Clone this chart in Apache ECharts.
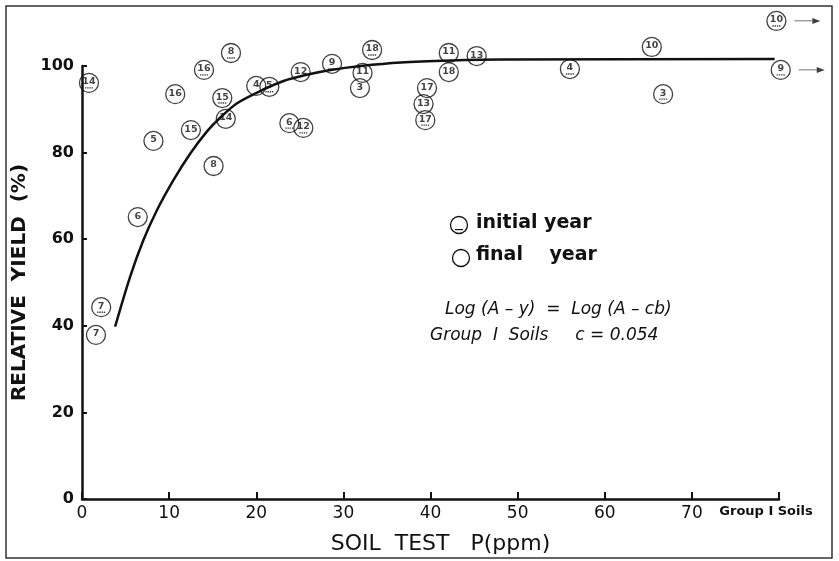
<!DOCTYPE html>
<html>
<head>
<meta charset="utf-8">
<script src="https://cdn.jsdelivr.net/npm/echarts@6/dist/echarts.min.js"></script>
<style>
html,body{margin:0;padding:0;background:#fff;}
#chart{width:839px;height:561px;}
</style>
</head>
<body>
<div id="chart"></div>
<script>
// ---- data ----
const xTicks = [0, 10, 20, 30, 40, 50, 60, 70];
const yTicks = [0, 20, 40, 60, 80, 100];

// initial year (dotted underline inside circle)
const initX = [0.8, 2.2, 14.0, 17.1, 16.1, 21.5, 23.8, 25.4, 28.7, 33.3, 39.4, 56.0, 66.7, 80.2, 79.7];
const initY = [96.1, 44.3, 99.1, 103.0, 92.6, 95.2, 86.8, 85.7, 100.5, 103.7, 87.5, 99.3, 93.5, 99.1, 110.4];
const initLabel = ['14', '7', '16', '8', '15', '5', '6', '12', '9', '18', '17', '4', '3', '9', '10'];

// final year (plain circle)
const finalX = [1.6, 6.4, 8.2, 10.7, 12.5, 16.5, 15.1, 20.0, 25.1, 32.2, 31.9, 39.6, 39.2, 42.1, 42.1, 45.3, 65.4];
const finalY = [37.9, 65.1, 82.7, 93.5, 85.2, 87.8, 76.9, 95.4, 98.6, 98.4, 94.9, 94.9, 91.2, 103.0, 98.6, 102.3, 104.4];
const finalLabel = ['7', '6', '5', '16', '15', '14', '8', '4', '12', '11', '3', '17', '13', '11', '18', '13', '10'];

// off-scale points (drawn with an arrow to the right)
const arrowX = [80.2, 79.7];
const arrowY = [99.1, 110.4];

// fitted curve
const curveX = [3.80, 5.52, 7.05, 8.60, 10.51, 12.43, 14.35, 15.88, 17.80, 20.71, 23.13, 25.66, 28.54, 31.99, 36.59, 42.35, 48.10, 79.5];
const curveY = [39.8, 51.3, 59.8, 66.7, 73.7, 79.8, 84.9, 88.1, 91.4, 94.46, 96.54, 97.92, 99.08, 100.0, 100.81, 101.27, 101.50, 101.6];

// ---- chart ----
const pair = (xs, ys) => xs.map((x, i) => [x, ys[i]]);
const fontMain = '"DejaVu Sans", "Liberation Sans", sans-serif';
const dotsPath = 'path://M0,0h1.4v1.4h-1.4z M2.2,0h1.4v1.4h-1.4z M4.4,0h1.4v1.4h-1.4z M6.6,0h1.4v1.4h-1.4z';
const arrowPath = 'path://M0,2.6h19v0.8h-19z M18,0 L26,3 L18,6 z';

const chart = echarts.init(document.getElementById('chart'), null, {renderer: 'canvas'});

const circleSeries = (name, xs, ys, labels, z) => ({
  name: name,
  type: 'scatter',
  clip: false,
  z: z,
  symbol: 'circle',
  symbolSize: 19,
  itemStyle: {color: 'rgba(255,255,255,0)', borderColor: '#111', borderWidth: 1.3},
  label: {
    show: true, position: 'inside',
    formatter: p => labels[p.dataIndex],
    color: '#111', fontSize: 9.5, fontWeight: 'bold', fontFamily: fontMain,
    offset: [0, -1]
  },
  emphasis: {disabled: true},
  data: pair(xs, ys)
});

chart.setOption({
  animation: false,
  backgroundColor: '#fff',
  grid: {left: 82, right: 60, top: 66, bottom: 62, containLabel: false},
  xAxis: {
    type: 'value', min: 0, max: 80, interval: 10,
    name: 'SOIL  TEST   P(ppm)', nameLocation: 'middle', nameGap: 34,
    nameTextStyle: {fontSize: 22, color: '#111', fontFamily: fontMain, padding: [0, 0, 0, 20]},
    axisLine: {show: true, lineStyle: {color: '#111', width: 2.5}},
    axisTick: {show: true, inside: true, length: 7, lineStyle: {color: '#111', width: 2}},
    splitLine: {show: false},
    axisLabel: {
      margin: 6, color: '#111', fontSize: 17, fontFamily: fontMain,
      formatter: v => (v === 80 ? '{g|Group I Soils}' : (xTicks.indexOf(v) >= 0 ? String(v) : '')),
      rich: {g: {fontSize: 13, fontWeight: 'bold', color: '#111', fontFamily: fontMain, padding: [0, 26, 0, 0]}}
    }
  },
  yAxis: {
    type: 'value', min: 0, max: 100, interval: 20,
    name: 'RELATIVE  YIELD  (%)', nameLocation: 'middle', nameGap: 44, nameRotate: 90,
    nameTextStyle: {fontSize: 20, fontWeight: 'bold', color: '#111', fontFamily: fontMain},
    axisLine: {show: true, lineStyle: {color: '#111', width: 2.5}},
    axisTick: {show: true, inside: true, length: 5, lineStyle: {color: '#111', width: 2}},
    splitLine: {show: false},
    axisLabel: {
      margin: 8, color: '#111', fontSize: 16, fontWeight: 'bold', fontFamily: fontMain,
      formatter: v => (yTicks.indexOf(v) >= 0 ? String(v) : '')
    }
  },
  series: [
    {
      name: 'curve', type: 'line', smooth: 0.3, showSymbol: false, z: 2, clip: false,
      lineStyle: {color: '#111', width: 2.5},
      emphasis: {disabled: true},
      data: pair(curveX, curveY)
    },
    circleSeries('initial year', initX, initY, initLabel, 4),
    circleSeries('final year', finalX, finalY, finalLabel, 4),
    {
      name: 'initial dots', type: 'scatter', clip: false, z: 5, silent: true,
      symbol: dotsPath, symbolSize: [8, 1.4], symbolOffset: [0, 5],
      itemStyle: {color: '#111'},
      data: pair(initX, initY)
    },
    {
      name: 'arrows', type: 'scatter', clip: false, z: 5, silent: true,
      symbol: arrowPath, symbolSize: [26, 6], symbolOffset: [31, 0],
      itemStyle: {color: '#111'},
      data: pair(arrowX, arrowY)
    }
  ],
  graphic: [
    {type: 'rect', shape: {x: 6, y: 6, width: 826, height: 552},
     style: {fill: 'none', stroke: '#333', lineWidth: 1.5}, z: 0},
    // legend
    {type: 'circle', shape: {cx: 459, cy: 225, r: 8.5}, style: {fill: 'none', stroke: '#111', lineWidth: 1.3}},
    {type: 'rect', shape: {x: 455, y: 229, width: 8, height: 1.2}, style: {fill: '#111'}},
    {type: 'text', left: 476, top: 214, style: {text: 'initial year', fill: '#111', font: 'bold 19px ' + fontMain}},
    {type: 'text', left: 476, top: 246, style: {text: 'final    year', fill: '#111', font: 'bold 19px ' + fontMain}},
    {type: 'circle', shape: {cx: 461, cy: 258, r: 8.5}, style: {fill: 'none', stroke: '#111', lineWidth: 1.3}},
    // equation
    {type: 'text', left: 445, top: 301, style: {text: 'Log (A – y)  =  Log (A – cb)', font: 'italic 17px ' + fontMain, fill: '#111'}},
    {type: 'text', left: 430, top: 327, style: {text: 'Group  I  Soils     c = 0.054', font: 'italic 17px ' + fontMain, fill: '#111'}}
  ]
});
</script>
</body>
</html>
